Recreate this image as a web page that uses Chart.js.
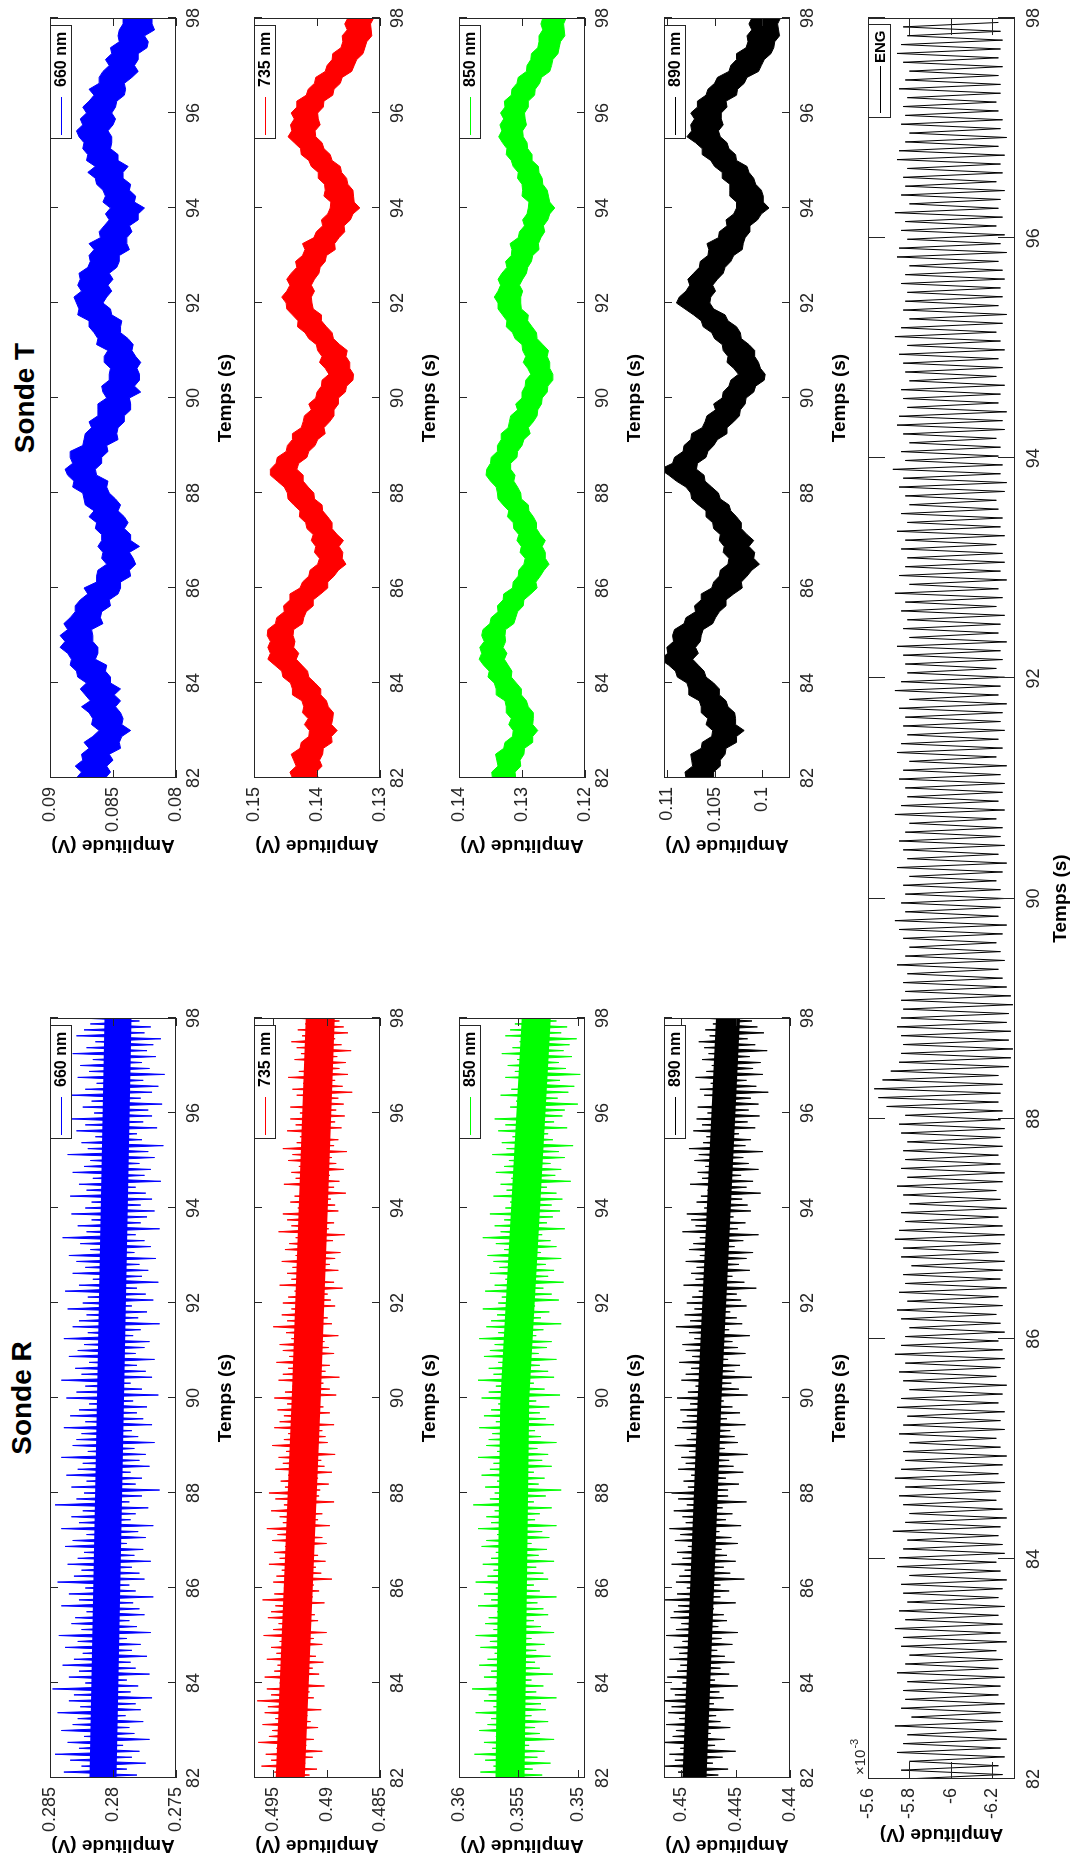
<!DOCTYPE html>
<html>
<head>
<meta charset="utf-8">
<title>Sonde R / Sonde T</title>
<script src="https://cdn.jsdelivr.net/npm/chart.js@4.4.1/dist/chart.umd.min.js"></script>
<style>
  html, body { margin: 0; padding: 0; background: #fff; }
  body { width: 1073px; height: 1861px; overflow: hidden; position: relative; }
  /* the figure is laid out landscape, then turned a quarter turn counter-clockwise */
  #figure {
    position: absolute; left: 0; top: 0;
    width: 1861px; height: 1073px;
    transform-origin: 0 0;
    transform: translateY(1861px) rotate(-90deg);
    font-family: "Liberation Sans", Arial, sans-serif;
    background: #fff;
  }
  #figure canvas { position: absolute; }
  .sonde-title {
    position: absolute; font-weight: bold; font-size: 28px; line-height: 28px;
    color: #000; white-space: nowrap; transform: translateX(-50%);
  }
</style>
</head>
<body>
<div id="figure">
  <div class="sonde-title" style="left:463px; top:8px">Sonde R</div>
  <div class="sonde-title" style="left:1463px; top:11px">Sonde T</div>
</div>
<script>
// ---------- data ----------
const timeTicks = [82, 84, 86, 88, 90, 92, 94, 96, 98];
const midTimes = [82, 90, 98];

// Sonde R, upper / lower noise extremes every 0.125 s from 82 s (units of 1e-4 V)
const blueR_hi = [2830,2839,2825,2834,2846,2827,2836,2823,2841,2832, 2828,2844,2826,2835,2831,2848,2822,2835,2827,2840,
  2831,2824,2838,2828,2843,2825,2833,2830,2821,2841, 2827,2835,2822,2844,2831,2825,2836,2828,2823,2838,
  2832,2821,2841,2827,2833,2824,2846,2829,2823,2833, 2821,2837,2828,2824,2841,2820,2832,2829,2825,2839,
  2822,2834,2827,2819,2837,2829,2822,2841,2825,2830, 2819,2835,2828,2823,2839,2820,2832,2827,2821,2836,
  2824,2820,2838,2827,2816,2832,2822,2829,2835,2818, 2826,2840,2821,2828,2817,2833,2822,2817,2834,2821,
  2827,2816,2832,2823,2818,2836,2820,2825,2814,2829, 2822,2833,2815,2824,2817,2833,2822,2813,2828,2819,
  2826,2816,2832,2821,2814,2829,2823,2818,2825];
const blueR_lo = [2781,2789,2774,2785,2779,2792,2771,2783,2787,2776, 2790,2778,2782,2769,2786,2780,2789,2771,2782,2786,
  2773,2785,2778,2789,2770,2781,2787,2775,2779,2784, 2768,2782,2787,2775,2779,2785,2770,2783,2776,2789,
  2774,2780,2768,2786,2782,2772,2787,2777,2763,2782, 2777,2786,2771,2779,2774,2783,2767,2780,2785,2769,
  2776,2781,2773,2784,2764,2777,2786,2769,2774,2781, 2767,2782,2775,2771,2784,2778,2763,2780,2773,2785,
  2768,2774,2781,2764,2777,2772,2779,2766,2783,2770, 2775,2782,2763,2778,2773,2767,2778,2769,2774,2782,
  2762,2775,2770,2779,2767,2772,2760,2777,2781,2765, 2776,2769,2772,2761,2778,2769,2764,2776,2759,2771,
  2777,2766,2773,2768,2762,2775,2770,2779,2765];
const blueR_mid = [2808, 2802, 2796];

const redR_hi = [4956,4949,4961,4952,4957,4947,4964,4954,4951,4960, 4948,4958,4955,4965,4952,4956,4944,4958,4949,4946,
  4956,4947,4952,4944,4959,4950,4945,4955,4952,4948, 4960,4949,4940,4950,4947,4942,4954,4944,4949,4939,
  4951,4946,4956,4941,4944,4952,4940,4948,4954,4939, 4943,4936,4948,4941,4945,4938,4951,4940,4936,4949,
  4944,4940,4946,4937,4949,4939,4932,4945,4941,4936, 4947,4935,4941,4944,4933,4938,4950,4937,4942,4933,
  4941,4936,4930,4944,4933,4937,4932,4942,4929,4939, 4935,4929,4945,4933,4937,4941,4927,4934,4930,4924,
  4940,4929,4933,4926,4936,4932,4941,4928,4925,4937, 4929,4934,4925,4934,4920,4928,4932,4922,4936,4926,
  4921,4930,4924,4928,4933,4923,4927,4920,4931];
const redR_lo = [4916,4909,4920,4913,4904,4919,4912,4922,4908,4915, 4918,4905,4920,4912,4916,4902,4917,4907,4913,4903,
  4910,4916,4904,4912,4900,4915,4908,4911,4918,4902, 4913,4907,4912,4895,4905,4910,4901,4908,4912,4900,
  4904,4913,4897,4908,4904,4911,4893,4907,4906,4898, 4908,4895,4902,4905,4892,4908,4899,4901,4904,4893,
  4907,4897,4903,4909,4891,4897,4903,4888,4901,4897, 4905,4893,4898,4902,4889,4905,4895,4899,4904,4892,
  4896,4899,4885,4893,4902,4889,4897,4892,4887,4901, 4894,4883,4898,4893,4901,4889,4892,4896,4882,4893,
  4888,4897,4884,4891,4895,4881,4893,4889,4898,4886, 4892,4883,4891,4884,4889,4876,4885,4892,4880,4888,
  4882,4890,4877,4886,4892,4880,4884,4888,4883];
const redR_mid = [4934, 4919, 4906];

const greenR_hi = [3575,3582,3571,3578,3587,3572,3579,3569,3583,3576, 3573,3586,3571,3579,3575,3589,3569,3579,3573,3583,
  3576,3570,3582,3574,3586,3571,3578,3575,3568,3584, 3573,3579,3569,3586,3576,3571,3580,3573,3569,3581,
  3577,3568,3584,3573,3577,3570,3588,3574,3570,3578, 3568,3581,3574,3571,3584,3568,3577,3575,3572,3583,
  3569,3579,3573,3567,3581,3575,3569,3584,3571,3575, 3567,3579,3574,3570,3583,3567,3577,3573,3568,3580,
  3567,3564,3578,3570,3561,3574,3566,3571,3576,3562, 3569,3580,3565,3570,3562,3574,3561,3557,3571,3560,
  3565,3556,3569,3562,3558,3572,3560,3564,3555,3567, 3561,3570,3550,3557,3552,3565,3556,3549,3561,3553,
  3559,3551,3564,3555,3549,3561,3557,3553,3558];
const greenR_lo = [3530,3538,3523,3534,3528,3541,3520,3532,3536,3525, 3539,3527,3531,3518,3535,3529,3539,3521,3532,3536,
  3523,3535,3528,3539,3520,3531,3537,3525,3529,3534, 3518,3532,3537,3525,3529,3535,3520,3533,3526,3539,
  3524,3530,3518,3536,3532,3522,3537,3527,3514,3533, 3528,3537,3522,3530,3525,3534,3518,3531,3536,3520,
  3527,3532,3524,3535,3515,3528,3537,3520,3525,3532, 3518,3533,3526,3522,3535,3529,3514,3531,3524,3536,
  3516,3522,3529,3512,3525,3520,3527,3514,3531,3518, 3523,3530,3511,3526,3521,3515,3522,3513,3518,3526,
  3506,3519,3514,3523,3511,3516,3504,3521,3525,3509, 3520,3513,3511,3500,3517,3508,3503,3515,3498,3510,
  3516,3505,3512,3507,3501,3514,3509,3518,3504];
const greenR_mid = [3557, 3553, 3535];

const blackR_hi = [4510,4503,4515,4506,4511,4501,4518,4508,4505,4514, 4502,4512,4509,4519,4506,4510,4499,4513,4504,4501,
  4511,4502,4507,4499,4514,4505,4500,4510,4507,4503, 4515,4504,4495,4505,4502,4497,4509,4499,4504,4494,
  4506,4501,4511,4496,4499,4507,4495,4503,4509,4494, 4498,4491,4503,4496,4500,4493,4506,4495,4491,4504,
  4499,4495,4501,4492,4504,4494,4487,4500,4496,4491, 4502,4490,4496,4499,4488,4493,4505,4492,4497,4488,
  4495,4490,4484,4498,4487,4491,4486,4496,4483,4493, 4489,4483,4499,4487,4491,4495,4479,4486,4482,4476,
  4492,4481,4485,4478,4488,4484,4493,4480,4477,4489, 4481,4486,4476,4485,4471,4479,4483,4473,4487,4477,
  4472,4481,4475,4479,4484,4474,4478,4471,4482];
const blackR_lo = [4466,4457,4471,4462,4450,4469,4460,4473,4455,4464, 4468,4452,4470,4461,4465,4448,4469,4456,4464,4451,
  4460,4467,4453,4463,4448,4466,4458,4461,4470,4450, 4464,4456,4464,4442,4455,4461,4450,4458,4463,4448,
  4454,4465,4445,4459,4453,4462,4440,4457,4457,4447, 4459,4443,4452,4456,4439,4460,4448,4451,4455,4441,
  4458,4446,4453,4461,4439,4447,4454,4435,4451,4446, 4457,4441,4448,4453,4437,4456,4444,4449,4455,4440,
  4445,4449,4431,4442,4453,4437,4447,4440,4434,4451, 4443,4429,4448,4441,4452,4436,4439,4444,4427,4440,
  4434,4445,4429,4438,4443,4425,4441,4436,4447,4432, 4439,4428,4438,4429,4436,4420,4431,4440,4425,4434,
  4427,4437,4421,4432,4439,4424,4430,4435,4428];
const blackR_mid = [4488, 4474, 4457];

// Sonde T, upper / lower edge of the trace every 0.125 s from 82 s (units of 1e-4 V)
const blueT_hi = [879,875,880,874,875,869,873,866,861,867, 866,869,875,868,872,876,871,878,879,884,
  883,886,892,888,892,886,889,884,880,880, 876,870,873,863,863,862,855,859,858,862,
  859,859,864,863,869,865,872,873,874,882, 881,886,888,882,884,884,874,873,872,867,
  869,862,862,862,855,858,859,853,853,852, 857,857,854,863,862,865,869,869,878,877,
  879,881,875,878,876,877,870,868,869,865, 869,860,861,857,853,856,852,858,856,858,
  863,864,870,864,871,870,874,873,877,879, 874,876,871,874,869,865,869,861,861,858,
  853,856,851,852,845,846,845,842,842];
const blueT_lo = [856,852,855,850,853,844,845,843,836,843, 842,844,848,844,849,844,852,852,856,855,
  864,862,862,866,866,867,858,860,859,852, 853,846,844,844,836,837,832,834,837,829,
  836,836,841,838,841,846,844,848,853,855, 854,863,864,859,859,854,855,846,847,846,
  841,841,836,836,837,828,833,829,829,831, 828,832,835,834,838,844,844,843,851,852,
  858,855,851,854,850,853,847,845,845,837, 839,839,835,837,830,830,825,833,832,837,
  836,842,842,838,846,846,852,851,851,854, 850,848,851,848,847,841,840,841,835,830,
  833,830,830,823,822,825,817,819,819];

const redT_hi = [1439,1443,1433,1437,1441,1427,1425,1413,1412,1420, 1414,1423,1421,1424,1439,1439,1442,1454,1456,1467,
  1478,1474,1478,1474,1479,1478,1466,1464,1452,1453, 1443,1443,1427,1423,1413,1411,1399,1396,1404,1402,
  1409,1406,1416,1418,1428,1427,1437,1446,1447,1452, 1463,1474,1474,1465,1463,1449,1447,1439,1439,1425,
  1422,1420,1409,1413,1402,1400,1393,1392,1381,1387, 1396,1392,1399,1401,1413,1419,1431,1430,1439,1448,
  1449,1456,1448,1443,1448,1441,1432,1434,1423,1419, 1423,1405,1401,1391,1393,1383,1379,1378,1389,1387,
  1388,1398,1398,1409,1413,1425,1426,1436,1446,1440, 1442,1436,1441,1432,1432,1417,1414,1404,1402,1387,
  1384,1376,1375,1362,1359,1360,1352,1356,1351];
const redT_lo = [1398,1401,1392,1396,1391,1390,1376,1377,1368,1377, 1375,1374,1382,1385,1394,1394,1403,1413,1415,1424,
  1433,1429,1437,1435,1438,1437,1423,1421,1417,1406, 1406,1394,1383,1383,1373,1366,1354,1360,1359,1365,
  1358,1368,1376,1376,1383,1391,1392,1404,1405,1414, 1422,1422,1432,1429,1416,1413,1403,1399,1387,1389,
  1380,1373,1373,1366,1366,1355,1353,1343,1342,1348, 1348,1354,1352,1364,1374,1376,1385,1393,1393,1406,
  1408,1409,1404,1409,1404,1397,1395,1387,1385,1371, 1372,1365,1356,1357,1347,1343,1332,1341,1342,1343,
  1351,1353,1361,1363,1376,1379,1389,1392,1402,1403, 1395,1398,1399,1390,1389,1375,1373,1363,1360,1345,
  1341,1337,1327,1324,1321,1313,1314,1315,1310];

const greenT_hi = [1347,1348,1338,1340,1342,1329,1327,1315,1314,1321, 1317,1325,1325,1327,1341,1341,1344,1354,1352,1361,
  1368,1364,1367,1360,1364,1362,1351,1349,1338,1339, 1330,1329,1315,1314,1306,1305,1297,1295,1303,1301,
  1308,1305,1313,1314,1323,1321,1330,1338,1339,1341, 1350,1357,1356,1350,1349,1339,1339,1333,1333,1322,
  1320,1318,1307,1310,1300,1300,1295,1294,1286,1291, 1298,1294,1299,1300,1311,1315,1325,1324,1331,1338,
  1338,1344,1338,1334,1338,1332,1324,1326,1317,1316, 1319,1306,1304,1296,1299,1292,1290,1289,1300,1299,
  1300,1307,1306,1314,1317,1325,1324,1331,1337,1332, 1335,1329,1334,1327,1328,1317,1316,1308,1306,1293,
  1292,1286,1285,1275,1273,1273,1267,1270,1267];
const greenT_lo = [1310,1311,1302,1303,1297,1296,1283,1283,1275,1283, 1282,1282,1290,1293,1301,1301,1309,1317,1316,1322,
  1328,1324,1330,1326,1327,1326,1313,1310,1307,1298, 1297,1286,1276,1278,1271,1265,1257,1263,1263,1268,
  1263,1271,1277,1277,1282,1289,1290,1301,1302,1307, 1313,1311,1318,1318,1308,1307,1300,1297,1287,1290,
  1282,1276,1275,1269,1268,1260,1259,1251,1251,1256, 1256,1260,1258,1267,1276,1277,1284,1291,1290,1301,
  1302,1302,1299,1304,1299,1293,1291,1285,1283,1273, 1274,1270,1264,1266,1259,1256,1248,1256,1258,1260,
  1267,1268,1273,1274,1284,1284,1291,1292,1298,1299, 1293,1295,1296,1290,1290,1280,1279,1272,1269,1256,
  1253,1251,1243,1241,1239,1232,1233,1234,1230];

const blackT_hi = [1080,1081,1073,1074,1075,1064,1063,1053,1052,1059, 1057,1064,1064,1066,1077,1077,1079,1089,1091,1098,
  1107,1099,1100,1093,1094,1092,1082,1080,1070,1071, 1064,1064,1053,1051,1045,1044,1036,1035,1041,1040,
  1045,1044,1051,1052,1059,1059,1067,1074,1075,1080, 1090,1098,1107,1094,1092,1083,1082,1075,1074,1063,
  1060,1058,1049,1051,1042,1041,1035,1033,1025,1030, 1037,1036,1041,1042,1050,1053,1062,1064,1072,1081,
  1090,1087,1080,1076,1078,1072,1066,1065,1057,1056, 1058,1046,1045,1037,1038,1030,1027,1027,1034,1034,
  1034,1042,1042,1050,1054,1063,1063,1070,1079,1074, 1075,1071,1075,1068,1068,1059,1057,1050,1047,1035,
  1033,1027,1027,1017,1015,1016,1011,1014,1011];
const blackT_lo = [1051,1051,1044,1044,1039,1038,1027,1027,1019,1028, 1028,1029,1036,1038,1045,1045,1051,1059,1061,1067,
  1073,1067,1070,1065,1064,1062,1052,1049,1045,1038, 1038,1030,1021,1022,1016,1011,1003,1009,1008,1014,
  1009,1016,1022,1022,1027,1033,1035,1044,1046,1053, 1060,1061,1069,1068,1059,1057,1051,1047,1037,1037,
  1030,1024,1023,1018,1017,1009,1007,998,997,1002, 1004,1008,1008,1014,1022,1023,1027,1036,1039,1051,
  1055,1054,1049,1052,1047,1041,1039,1033,1030,1021, 1020,1018,1013,1013,1005,1001,993,999,999,1001,
  1007,1009,1014,1016,1027,1028,1035,1037,1044,1046, 1041,1043,1043,1037,1038,1027,1026,1019,1016,1004,
  1001,998,991,988,987,982,983,984,981];

// ENG, one maximum and one minimum per cycle, 199 cycles over 82-98 s (units of 1e-5 V)
const engMax = [-578,-576,-580,-574,-577,-579,-573,-581,-576,-578, -577,-579,-574,-578,-580,-576,-577,-573,-578,-575,
  -579,-577,-576,-580,-574,-575,-577,-579,-572,-578, -580,-577,-575,-578,-573,-576,-578,-577,-580,-575,
  -577,-579,-574,-576,-580,-577,-575,-578,-573,-576, -578,-580,-576,-574,-579,-575,-578,-577,-581,-576,
  -577,-573,-575,-578,-576,-580,-577,-574,-579,-576, -578,-577,-579,-576,-575,-578,-569,-565,-563,-567,
  -571,-575,-576,-577,-576,-574,-576,-577,-576,-578, -577,-579,-574,-578,-580,-577,-575,-573,-578,-576,
  -578,-577,-580,-574,-579,-577,-575,-578,-580,-573, -576,-579,-578,-575,-577,-580,-574,-576,-579,-577,
  -578,-575,-580,-573,-576,-579,-578,-577,-574,-580, -577,-579,-576,-578,-573,-580,-575,-578,-579,-576,
  -578,-574,-579,-576,-580,-578,-575,-577,-572,-578, -576,-580,-577,-574,-575,-579,-577,-576,-580,-578,
  -577,-575,-579,-573,-576,-580,-577,-578,-579,-576, -578,-580,-574,-575,-579,-576,-578,-573,-580,-576,
  -578,-577,-579,-574,-575,-578,-580,-576,-578,-577, -579,-575,-578,-580,-577,-574,-576,-579,-577];
const engMin = [-625,-623,-626,-624,-627,-622,-625,-624,-626,-623, -624,-626,-623,-625,-622,-627,-624,-625,-623,-626,
  -623,-625,-627,-624,-622,-626,-625,-623,-624,-627, -625,-622,-624,-626,-623,-625,-627,-624,-622,-626,
  -624,-626,-623,-625,-627,-622,-624,-626,-625,-623, -626,-624,-622,-625,-623,-627,-624,-625,-626,-623,
  -624,-626,-625,-623,-627,-624,-622,-625,-626,-624, -623,-625,-624,-626,-624,-625,-623,-624,-625,-623,
  -628,-629,-630,-628,-629,-627,-628,-630,-629,-627, -625,-623,-626,-624,-622,-625,-627,-623,-624,-626,
  -624,-622,-625,-627,-623,-626,-624,-625,-622,-626, -623,-625,-626,-624,-627,-622,-625,-623,-626,-624,
  -625,-627,-623,-624,-626,-622,-625,-624,-627,-623, -624,-626,-622,-625,-623,-627,-624,-626,-625,-622,
  -626,-624,-625,-623,-622,-626,-627,-624,-625,-623, -624,-622,-626,-625,-627,-623,-624,-626,-622,-625,
  -623,-626,-624,-622,-625,-627,-623,-625,-624,-626, -625,-623,-627,-624,-626,-622,-625,-623,-624,-626,
  -622,-625,-624,-626,-623,-627,-624,-625,-623,-622, -624,-624,-623,-625,-623,-624,-625,-624,-623];

// y tick values (V, ENG in 1e-3 V)
const blueR_ticks = [0.275, 0.28, 0.285];
const redR_ticks = [0.485, 0.49, 0.495];
const greenR_ticks = [0.35, 0.355, 0.36];
const blackR_ticks = [0.44, 0.445, 0.45];
const blueT_ticks = [0.08, 0.085, 0.09];
const redT_ticks = [0.13, 0.14, 0.15];
const greenT_ticks = [0.12, 0.13, 0.14];
const blackT_ticks = [0.1, 0.105, 0.11];
const eng_ticks = [-6.2, -6, -5.8, -5.6];

// ---------- drawing ----------
const FONT = '"Liberation Sans", Arial, sans-serif';
const INK = '#262626';
const U = 1e-4;
const STEP = 0.125;
const ENG_PERIOD = 16 / engMax.length;

const bandPoints = arr => arr.map((v, i) => ({ x: 82 + i * STEP, y: v * U }));

function zigPoints(hi, lo) {
  const pts = [];
  hi.forEach((v, i) => {
    const t = 82 + i * STEP;
    pts.push({ x: t, y: v * U });
    pts.push({ x: Math.min(98, t + STEP / 2), y: lo[i] * U });
  });
  return pts;
}

// frame, inward ticks on all four sides, legend box and exponent label
const framePlugin = {
  id: 'frame',
  afterDatasetsDraw(chart, args, o) {
    const { ctx, chartArea: a } = chart;
    const xs = chart.scales.x, ys = chart.scales.y;
    ctx.save();
    ctx.strokeStyle = INK;
    ctx.lineWidth = 1;
    ctx.beginPath();
    xs.ticks.forEach(t => {
      const p = Math.round(xs.getPixelForValue(t.value)) + 0.5;
      ctx.moveTo(p, a.bottom); ctx.lineTo(p, a.bottom - o.tick);
      ctx.moveTo(p, a.top); ctx.lineTo(p, a.top + o.tick);
    });
    ys.ticks.forEach(t => {
      const p = Math.round(ys.getPixelForValue(t.value)) + 0.5;
      ctx.moveTo(a.left, p); ctx.lineTo(a.left + o.tick, p);
      ctx.moveTo(a.right, p); ctx.lineTo(a.right - o.tick, p);
    });
    ctx.stroke();
    ctx.strokeRect(a.left + 0.5, a.top + 0.5, a.width - 1, a.height - 1);

    const lg = o.legend;
    const bx = Math.round(a.right - lg.right - lg.w), by = Math.round(a.top);
    ctx.fillStyle = '#fff';
    ctx.fillRect(bx, by, lg.w, lg.h);
    ctx.strokeRect(bx + 0.5, by + 0.5, lg.w - 1, lg.h - 1);
    ctx.strokeStyle = lg.color;
    ctx.beginPath();
    ctx.moveTo(bx + lg.x0, by + Math.round(lg.h / 2) + 0.5);
    ctx.lineTo(bx + lg.x1, by + Math.round(lg.h / 2) + 0.5);
    ctx.stroke();
    ctx.fillStyle = '#000';
    ctx.font = 'bold ' + lg.size + 'px ' + FONT;
    ctx.textAlign = 'left';
    ctx.textBaseline = 'middle';
    ctx.fillText(lg.text, bx + lg.tx, by + lg.h / 2 + 1);

    if (o.exponent) {
      ctx.fillStyle = INK;
      ctx.textBaseline = 'alphabetic';
      ctx.font = '15px ' + FONT;
      ctx.fillText('\u00d710', a.left + 4, a.top - 3);
      const w = ctx.measureText('\u00d710').width;
      ctx.font = '11px ' + FONT;
      ctx.fillText('-3', a.left + 4 + w + 1, a.top - 10);
    }
    ctx.restore();
  }
};

function makePanel(box, datasets, yAxis, frame) {
  const W = box.yW + (box.R - box.L) + box.padR;
  const H = box.padT + (box.B - box.T) + box.xH;
  const cv = document.createElement('canvas');
  cv.width = W; cv.height = H;
  cv.style.left = (box.L - box.yW) + 'px';
  cv.style.top = (box.T - box.padT) + 'px';
  cv.style.width = W + 'px';
  cv.style.height = H + 'px';
  document.getElementById('figure').appendChild(cv);

  new Chart(cv, {
    type: 'line',
    data: { datasets },
    options: {
      responsive: false,
      animation: false,
      events: [],
      devicePixelRatio: 1,
      layout: { padding: { top: box.padT, right: box.padR, left: 0, bottom: 0 } },
      elements: { point: { radius: 0 }, line: { tension: 0, borderJoinStyle: 'round' } },
      plugins: { legend: { display: false }, tooltip: { enabled: false }, frame },
      scales: {
        x: {
          type: 'linear', min: 82, max: 98,
          afterBuildTicks: s => { s.ticks = timeTicks.map(v => ({ value: v })); },
          afterFit: s => { s.height = box.xH; },
          grid: { display: false, drawTicks: false },
          border: { display: false },
          ticks: { color: INK, font: { family: FONT, size: 18 }, padding: box.xTickPad,
                   maxRotation: 0, autoSkip: false, callback: v => String(v) },
          title: { display: true, text: 'Temps (s)', color: '#000',
                   font: { family: FONT, size: 19, weight: 'bold' },
                   padding: { top: 0, bottom: box.xTitlePad } }
        },
        y: {
          type: 'linear', min: yAxis.min, max: yAxis.max,
          afterBuildTicks: s => { s.ticks = yAxis.ticks.map(v => ({ value: v })); },
          afterFit: s => { s.width = box.yW; },
          grid: { display: false, drawTicks: false },
          border: { display: false },
          ticks: { color: INK, font: { family: FONT, size: 18 }, padding: box.yTickPad,
                   callback: v => String(parseFloat(v.toFixed(5))) },
          title: { display: true, text: 'Amplitude (V)', color: '#000',
                   font: { family: FONT, size: 19, weight: 'bold' },
                   padding: { top: box.yTitlePad, bottom: 0 } }
        }
      }
    },
    plugins: [framePlugin]
  });
}

// panel geometry in the landscape figure
const rowTop = [50, 254, 459, 664];
const ROW_H = 126;
const sondeBox = (L, row) => ({
  L, R: L + 760, T: rowTop[row], B: rowTop[row] + ROW_H,
  yW: 83, padR: 18, padT: 20, xH: 75,
  xTickPad: 7, xTitlePad: 14, yTickPad: 9, yTitlePad: 4
});
const sondeLegend = (text, color) => ({ text, color, w: 114, h: 22, right: 7, x0: 4, x1: 42, tx: 52, size: 16 });

const series = [
  { row: 0, color: '#0000ff', label: '660 nm', core: 27, rHi: blueR_hi, rLo: blueR_lo, rMid: blueR_mid, rMin: 0.275, rMax: 0.285, rTicks: blueR_ticks,
    tHi: blueT_hi, tLo: blueT_lo, tMin: 0.08, tMax: 0.09, tTicks: blueT_ticks },
  { row: 1, color: '#ff0000', label: '735 nm', core: 29, rHi: redR_hi, rLo: redR_lo, rMid: redR_mid, rMin: 0.485, rMax: 0.4968, rTicks: redR_ticks,
    tHi: redT_hi, tLo: redT_lo, tMin: 0.13, tMax: 0.15, tTicks: redT_ticks },
  { row: 2, color: '#00ff00', label: '850 nm', core: 29, rHi: greenR_hi, rLo: greenR_lo, rMid: greenR_mid, rMin: 0.3494, rMax: 0.36, rTicks: greenR_ticks,
    tHi: greenT_hi, tLo: greenT_lo, tMin: 0.12, tMax: 0.14, tTicks: greenT_ticks },
  { row: 3, color: '#000000', label: '890 nm', core: 24, rHi: blackR_hi, rLo: blackR_lo, rMid: blackR_mid, rMin: 0.44, rMax: 0.4516, rTicks: blackR_ticks,
    tHi: blackT_hi, tLo: blackT_lo, tMin: 0.0971, tMax: 0.1103, tTicks: blackT_ticks }
];

series.forEach(s => {
  // Sonde R: dense core around the slowly drifting middle, spikes as a zig-zag
  makePanel(sondeBox(83, s.row), [
    { data: zigPoints(s.rHi, s.rLo), borderColor: s.color, backgroundColor: s.color, borderWidth: 1, fill: '+1' },
    { data: midTimes.map((t, i) => ({ x: t, y: s.rMid[i] * U })), borderColor: s.color, borderWidth: s.core, fill: false }
  ], { min: s.rMin, max: s.rMax, ticks: s.rTicks }, { tick: 8, legend: sondeLegend(s.label, s.color) });

  // Sonde T: noisy band around the slow oscillation
  makePanel(sondeBox(1083, s.row), [
    { data: bandPoints(s.tHi), borderColor: s.color, backgroundColor: s.color, borderWidth: 1, fill: '+1' },
    { data: bandPoints(s.tLo), borderColor: s.color, borderWidth: 1, fill: false }
  ], { min: s.tMin, max: s.tMax, ticks: s.tTicks }, { tick: 8, legend: sondeLegend(s.label, s.color) });
});

// ENG across the full width
const engPoints = [];
engMax.forEach((v, k) => {
  engPoints.push({ x: 82 + k * ENG_PERIOD, y: v / 100 });
  engPoints.push({ x: 82 + (k + 0.5) * ENG_PERIOD, y: engMin[k] / 100 });
});
makePanel({
  L: 82, R: 1844, T: 868, B: 1015,
  yW: 82, padR: 17, padT: 40, xH: 58,
  xTickPad: 8, xTitlePad: 1, yTickPad: 9, yTitlePad: 15
}, [
  { data: engPoints, borderColor: '#000000', borderWidth: 1, fill: false }
], { min: -6.31, max: -5.6, ticks: eng_ticks },
{ tick: 17, exponent: true, legend: { text: 'ENG', color: '#000000', w: 94, h: 23, right: 6, x0: 5, x1: 52, tx: 55, size: 15 } });
</script>
</body>
</html>
